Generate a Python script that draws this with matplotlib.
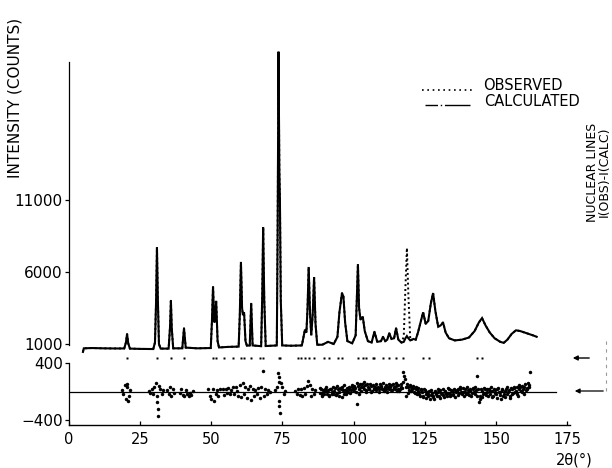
import matplotlib
matplotlib.use('Agg')
import matplotlib.pyplot as plt
from matplotlib.lines import Line2D

plt.rcParams['font.family'] = ['DejaVu Sans', 'Noto Sans']

# ---------------- data ----------------
# profile vertices: 2theta (deg), observed and calculated intensity (counts)
tt = [4.9, 5.2, 8, 12, 16, 19.4, 20.0, 20.4, 20.8, 21.4, 25, 29.6, 30.2, 30.6, 30.9, 31.2,
      31.6, 32.2, 35.0, 35.5, 35.8, 36.1, 36.6, 39.8, 40.4, 41.0, 45, 49.8, 50.2, 50.6,
      51.0, 51.2, 51.7, 52.2, 52.7, 56, 59.6, 60.0, 60.4, 60.8, 61.1, 61.5, 62.0, 62.5,
      63.5, 64.0, 64.5, 67.5, 67.9, 68.2, 68.6, 69.1, 73.0, 73.3, 73.6, 73.9, 74.1, 74.4,
      74.9, 78, 81.8, 82.6, 82.9, 83.4, 83.8, 84.2, 84.7, 85.1, 85.6, 86.1, 86.6, 87.2,
      89, 91, 93, 94.3, 95.0, 95.9, 96.4, 97.0, 97.8, 99.5, 100.7, 101.1, 101.5, 101.9,
      102.4, 103.2, 103.9, 105.0, 106.3, 107.3, 108.3, 109.6, 110.3, 111.1, 111.8, 112.5,
      113.3, 114.2, 114.9, 115.7, 116.8, 117.6, 118.2, 118.7, 119.2, 119.9, 121.0, 121.8,
      122.6, 123.5, 124.4, 125.3, 126.2, 127.1, 127.9, 128.7, 129.7, 130.6, 131.4, 132.3,
      133.5, 135.5, 138, 140.5, 142.5, 144.0, 145.1, 146.3, 147.8, 149.5, 151.5, 152.7,
      154.0, 155.5, 157.0, 158.5, 160.0, 161.5, 163.0, 164.3]
i_calc = [450, 700, 720, 700, 690, 690, 1100, 1700, 1050, 680, 660, 650, 1100, 4000, 7700, 4200,
          1000, 680, 680, 2200, 4000, 2100, 700, 700, 2100, 750, 700, 720, 2500, 5000,
          2600, 2500, 4000, 1200, 760, 800, 820, 3000, 6700, 3500, 3000, 3200, 1200, 880,
          900, 3850, 900, 850, 4500, 9100, 4000, 860, 900, 9000, 21300, 13000, 11000, 4000,
          900, 880, 900, 1700, 2000, 1800, 3500, 6350, 3000, 1600, 3000, 5650, 2400, 950,
          950, 1150, 1000, 1500, 3200, 4540, 4300, 2500, 1200, 1050, 1600, 4000, 6550, 3500,
          2700, 2900, 1900, 1200, 1100, 1850, 1150, 1200, 1500, 1200, 1300, 1750,
          1350, 1400, 2100, 1300, 1100, 1150, 1400, 1550, 1400, 1250, 1350, 1300,
          1800, 2500, 3200, 2400, 2600, 3800, 4540, 3300, 2200, 2300, 2500, 1800,
          1400, 1250, 1300, 1450, 1900, 2500, 2800, 2300, 1800, 1400, 1150, 1080,
          1300, 1700, 1950, 1900, 1800, 1700, 1600, 1500]
i_obs = list(i_calc)
i_obs[tt.index(117.6)] = 1500
i_obs[tt.index(118.2)] = 5000
i_obs[tt.index(118.7)] = 7670
i_obs[tt.index(119.2)] = 4500

# nuclear reflection positions (2theta)
nuclear_lines = [20.4, 30.9, 35.8, 40.4, 50.6, 51.7, 54.5, 57.5, 60.4, 61.5, 64.0, 67.0, 68.2,
                 73.6, 74.1, 80.5, 81.5, 82.9, 84.2, 86.1, 89.5, 91.5, 94.5, 95.9, 101.5,
                 103.2, 104.5, 106.7, 107.3, 110.3, 112.5, 114.9, 117.5, 124.4, 126.5,
                 143.5, 145.1]

# difference I(obs)-I(calc), first set
diff_tt = [18.5, 19, 19.5, 20, 20.2, 20.5, 20.6, 21, 21.5,
           28, 28.5, 29, 29.5, 30, 30.5, 31, 31.05, 31.1, 31.15, 31.5, 32, 32.5, 33,
           34.5, 35, 35.5, 36, 36.5, 37,
           39, 39.5, 40, 40.5, 41, 41.5, 42, 42.5, 43, 43.5,
           49, 49.5, 50, 50.5, 51, 51.5, 52, 52.5, 53,
           54, 54.5, 55, 55.5, 56, 56.5, 57, 57.5, 58, 58.5, 59, 59.5, 60, 60.5, 61, 61.5,
           62, 62.5, 63, 63.5, 64, 64.5, 65, 65.5, 66, 66.5, 67, 67.5, 68, 68.5, 69, 69.5,
           70, 70.5,
           72.5, 73, 73.5, 73.6, 73.7, 73.8, 73.9, 74.0, 74.5, 75, 75.5, 76,
           79.5, 80, 80.5, 81, 81.5, 82, 82.5, 83, 83.5, 84, 84.5, 85, 85.5, 86, 86.5,
           88, 88.5, 89, 89.5, 90, 90.5, 91, 91.5, 92, 92.5, 93, 93.5, 94, 94.5, 95, 95.5,
           96, 96.5, 97, 97.5, 98, 98.5, 99, 99.5, 100, 100.5, 101, 101.5, 102, 102.5, 103,
           103.5, 104, 104.5, 105, 105.5, 106, 106.5, 107, 107.5, 108, 108.5, 109, 109.5,
           110, 110.5, 111, 111.5, 112, 112.5, 113, 113.5, 114, 114.5, 115, 115.5, 116,
           116.5, 117, 117.5, 118, 118.5, 119, 119.5, 120, 120.5, 121, 121.5, 122, 122.5,
           123, 123.5, 124, 124.5, 125, 125.5, 126, 126.5, 127, 127.5, 128, 128.5, 129,
           129.5, 130, 130.5, 131, 131.5, 132, 132.5, 133, 133.5, 134, 134.5, 135, 135.5,
           136, 136.5, 137, 137.5, 138, 138.5, 139, 139.5, 140, 140.5, 141, 141.5, 142,
           142.5, 143, 143.5, 144, 144.5, 145, 145.5, 146, 146.5, 147, 147.5, 148, 148.5,
           149, 149.5, 150, 150.5, 151, 151.5, 152, 152.5, 153, 153.5, 154, 154.5, 155,
           155.5, 156, 156.5, 157, 157.5, 158, 158.5, 159, 159.5, 160, 160.5, 161, 161.5, 162]
diff_val = [20, -30, 90, -110, 110, 60, -130, -60, 15,
            10, -20, 30, -40, 60, 120, -60, -150, -250, -340, 80, 40, -30, 20,
            20, -40, 60, -70, 40, -20,
            -20, 30, -50, -70, 20, -40, -60, -20, -50, 10,
            30, -60, -110, 40, -130, -40, 20, -60, 30,
            30, -50, 40, -20, 50, -30, 20, 60, -40, 70, 10, -60, 90, -80, 120, -40,
            60, -90, 30, 80, -120, 40, -70, 20, -40, 50, -90, 60, 290, -60, 40, -30,
            20, -10,
            20, 60, 260, 200, 130, -130, -210, -300, 120, 60, -30, 10,
            10, -40, 30, -50, 40, -60, 50, -30, 80, 150, 90, -60, 40, -40, 20,
            -20, 30, -40, 10, 40, -30, 20, -50, 30, 0, -30, 50, -20, 40, -60, 30,
            70, -40, 20, 50, -10, 40, 20, 60, 10, 50, -170, 80, 30, 70, 110,
            40, 90, 20, 60, 30, 80, 10, 50, 70, 20, 60, 30, 80,
            40, 10, 60, 30, 70, 40, 90, 20, 60, 30, 80, 40, 10,
            70, 50, 270, 180, -60, 60, 20, 70, 30, 50, -20, 40, 10,
            -40, 30, -10, -60, 20, -30, -70, 10, -50, -20, -80, 0, -40,
            -10, -60, 20, -30, -50, 10, -40, -20, 30, -30, 10, -50, 20,
            -10, 40, -20, 30, -40, 0, 30, -30, 20, -50, 10, -20, 30,
            -40, 20, 220, -150, -60, 10, -30, 30, -50, 0, 40, -30, 10,
            -60, 20, -40, 30, -10, -50, 20, -70, 10, 40, -30, 20, -60,
            30, -20, 50, 10, -40, 30, 60, 0, 40, 70, 20, 50, 90, 270]

# difference, second set (intermediate scan steps 88.25 ... 161.75)
diff2_start, diff2_step = 88.25, 0.5
diff2_val = [50, -60, 20, -30, 70, 10, -70, 40, -40, 60, 10, -50, 80, -10, 50, -80, 20, 90,
             -30, 10, 70, -20, 90, 30,
             80, -10, 120, -40, 100, 10, 60, 130, 0, 100, 40, 110, -10, 90, 30, 110, 50, 0,
             100, 60,
             120, 30, 90, -10, 110, 60, 20, 100, 50, 120, 10, 90, 40, 100, 130, 220, 60, 110,
             -20, 90,
             10, 80, 0, 60, -30, 50, -60, 20, -80, 30, -90, 0, -40, -100, 20, -60, -110, 10,
             -70, 30,
             -90, -20, 40, -80, -10, -60, 50, -70, 20, -40, 40, -80, 10, -50, 60, -10, 50,
             -70, 0, 60,
             -30, 40, -70, 50, -10, 60, -60, 40, -100, 30, -80, 50, -20, 40, -70, 10, 60,
             -80, 40, -20,
             -90, 50, 0, -100, 40, -30, -80, 60, 0, -90, 50, -40, 70, -10, 60, -70, 90, 10,
             80, -30,
             100, 40, 120, 60]
diff2_tt = [diff2_start + diff2_step * k for k in range(len(diff2_val))]

x_ticks = [0, 25, 50, 75, 100, 125, 150, 175]
y_ticks_top = [1000, 6000, 11000]
y_ticks_bot = [-400, 400]

# ---------------- layout (pixel geometry) ----------------
W, H = 612, 468
fig = plt.figure(figsize=(W / 100, H / 100), dpi=100)


def fx(px):
    return px / W


def fy(py):
    return 1 - py / H


X0, X1 = 69, 570
ax = fig.add_axes([fx(X0), fy(360), fx(X1) - fx(X0), fy(41.6) - fy(360)])
ax.set_xlim(0, 176)
ax.set_ylim(-111, 22000)
ax.set_facecolor('none')
for s in ['top', 'right', 'bottom']:
    ax.spines[s].set_visible(False)
ax.spines['left'].set_bounds(900, 20580)
ax.spines['left'].set_linewidth(0.9)
ax.set_xticks([])
ax.set_yticks(y_ticks_top)
ax.set_yticklabels([str(v) for v in y_ticks_top])
ax.tick_params(axis='y', direction='out', length=3, width=0.9, pad=1.5, labelsize=11)

ax.plot(tt, i_calc, '-', color='black', lw=1.5, solid_joinstyle='miter', clip_on=False)
ax.plot(tt, i_obs, linestyle=(0, (1, 1.5)), color='black', lw=1.4, clip_on=False)
ax.plot(nuclear_lines, [28] * len(nuclear_lines), 's', color='black', ms=1.5, mec='none')

ax2 = fig.add_axes([fx(X0), fy(425), fx(X1) - fx(X0), fy(363) - fy(425)])
ax2.set_xlim(0, 176)
ax2.set_ylim(-470, 400)
ax2.set_facecolor('none')
for s in ['top', 'right']:
    ax2.spines[s].set_visible(False)
ax2.spines['left'].set_linewidth(0.9)
ax2.spines['bottom'].set_linewidth(1.0)
ax2.set_yticks(y_ticks_bot)
ax2.set_yticklabels(['\u2212400', '400'])
ax2.set_xticks(x_ticks)
ax2.set_xticklabels([str(v) for v in x_ticks])
ax2.tick_params(axis='y', direction='out', length=3, width=0.9, pad=1.5, labelsize=11)
ax2.tick_params(axis='x', direction='in', length=3, width=0.9, pad=5, labelsize=10.5)

ax2.plot([0, 171], [0, 0], '-', color='black', lw=0.9)
ax2.plot(diff_tt, diff_val, 'o', color='black', ms=2.5, mec='none', clip_on=False)
ax2.plot(diff2_tt, diff2_val, 'o', color='black', ms=2.5, mec='none', clip_on=False)

# ---------------- texts ----------------
fig.text(fx(15), fy(98), 'INTENSITY (COUNTS)', rotation=90, ha='center', va='center',
         fontsize=11)
fig.text(fx(574), fy(460), '2\u03b8(\u00b0)', ha='center', va='center', fontsize=10.5)
fig.text(fx(483), fy(86), 'OBSERVED', ha='left', va='center', fontsize=10.5)
fig.text(fx(484), fy(102), 'CALCULATED', ha='left', va='center', fontsize=10.5)
fig.add_artist(Line2D([fx(422), fx(473)], [fy(90), fy(90)], transform=fig.transFigure,
                      color='black', lw=1.2, linestyle=(0, (1, 2.2))))
fig.add_artist(Line2D([fx(425), fx(470)], [fy(105), fy(105)], transform=fig.transFigure,
                      color='black', lw=1.0, linestyle=(0, (9, 2, 1, 2, 30, 1))))
fig.text(fx(592), fy(172), 'NUCLEAR LINES', rotation=90, ha='center', va='center',
         fontsize=9)
fig.text(fx(604), fy(172), 'I(OBS)-I(CALC)', rotation=90, ha='center', va='center',
         fontsize=9)

# arrows on the right
ax2.annotate('', xy=(fx(570), fy(358)), xytext=(fx(592), fy(358)),
             xycoords='figure fraction', textcoords='figure fraction',
             arrowprops=dict(arrowstyle='-|>', color='black', lw=1.0, mutation_scale=7),
             annotation_clip=False)
ax2.annotate('', xy=(fx(572), fy(391)), xytext=(fx(606), fy(391)),
             xycoords='figure fraction', textcoords='figure fraction',
             arrowprops=dict(arrowstyle='-|>', color='black', lw=0.9, mutation_scale=7),
             annotation_clip=False)
fig.add_artist(Line2D([fx(606), fx(606)], [fy(391), fy(340)], transform=fig.transFigure,
                      color='#999999', lw=0.8, linestyle=(0, (3, 4))))

fig.savefig('out.png', dpi=100)
